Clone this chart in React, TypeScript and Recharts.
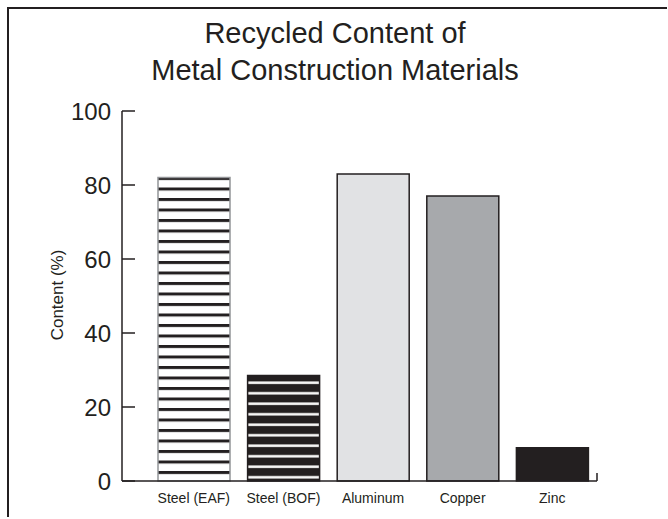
import { BarChart, Bar, XAxis, YAxis, Cell, Customized } from "recharts";

const categories = ["Steel (EAF)", "Steel (BOF)", "Aluminum", "Copper", "Zinc"];
const content = [82, 28.5, 83, 77, 9];
const yTicks = [0, 20, 40, 60, 80, 100];

const FILLS = ["url(#stripeEaf)", "url(#stripeBof)", "#e1e2e4", "#a7a9ac", "#231f20"];
const STROKES = ["#939598", "#231f20", "#231f20", "#231f20", "#231f20"];

const INK = "#231f20";
const FONT = "'Liberation Sans', Arial, sans-serif";

const W = 658;
const H = 508;
const MARGIN = { top: 102, right: 70, bottom: 8, left: 0 };
const Y_AXIS_W = 113;
const X_AXIS_H = 28;

const data = categories.map((name, i) => ({ name, value: content[i] }));

// tick label on the left, tick line on the inside of the axis
function YTick(props: any) {
  const { x, y, payload } = props;
  return (
    <g>
      <line x1={x + 11} x2={x + 24} y1={y} y2={y} stroke={INK} strokeWidth={1.5} />
      <text x={x} y={y} dy="0.36em" textAnchor="end" fontSize={24} fill={INK} fontFamily={FONT}>
        {payload.value}
      </text>
    </g>
  );
}

// small upturn at the right end of the baseline
function EndTick() {
  const x = W - MARGIN.right;
  const y = H - MARGIN.bottom - X_AXIS_H;
  return <line x1={x} x2={x} y1={y} y2={y - 8} stroke={INK} strokeWidth={1.5} />;
}

export default function App() {
  return (
    <div
      style={{
        position: "absolute",
        left: 7,
        top: 7,
        width: W,
        height: H,
        borderLeft: `2px solid ${INK}`,
        borderTop: `2px solid ${INK}`,
        fontFamily: FONT,
        color: INK,
        background: "#fff",
      }}
    >
      <div
        style={{
          position: "absolute",
          left: 0,
          top: 5.7,
          width: 652,
          textAlign: "center",
          fontSize: 29,
          lineHeight: "37.5px",
        }}
      >
        Recycled Content of
        <br />
        Metal Construction Materials
      </div>
      <div
        style={{
          position: "absolute",
          left: 49,
          top: 286,
          transform: "translate(-50%, -50%) rotate(-90deg)",
          whiteSpace: "nowrap",
          fontSize: 17,
        }}
      >
        Content (%)
      </div>
      <BarChart width={W} height={H} data={data} margin={MARGIN}>
        <defs>
          <pattern id="stripeEaf" patternUnits="userSpaceOnUse" width={8} height={10.5}>
            <rect width={8} height={10.5} fill="#fff" />
            <rect width={8} height={3} fill={INK} />
          </pattern>
          <pattern id="stripeBof" patternUnits="userSpaceOnUse" width={8} height={10.5}>
            <rect width={8} height={10.5} fill={INK} />
            <rect y={5} width={8} height={2.5} fill="#fff" />
          </pattern>
        </defs>
        <XAxis
          dataKey="name"
          interval={0}
          height={X_AXIS_H}
          padding={{ left: 27, right: 0 }}
          axisLine={{ stroke: INK, strokeWidth: 1.5 }}
          tickLine={false}
          tickSize={0}
          tickMargin={12}
          tick={{ fontSize: 14, fill: INK, fontFamily: FONT }}
        />
        <YAxis
          domain={[0, 100]}
          ticks={yTicks}
          width={Y_AXIS_W}
          axisLine={{ stroke: INK, strokeWidth: 1.5 }}
          tickLine={false}
          tickSize={0}
          tickMargin={11}
          tick={<YTick />}
        />
        <Bar dataKey="value" barSize={72} strokeWidth={1.5} isAnimationActive={false}>
          {data.map((d, i) => (
            <Cell key={d.name} fill={FILLS[i]} stroke={STROKES[i]} />
          ))}
        </Bar>
        <Customized component={<EndTick />} />
      </BarChart>
    </div>
  );
}
